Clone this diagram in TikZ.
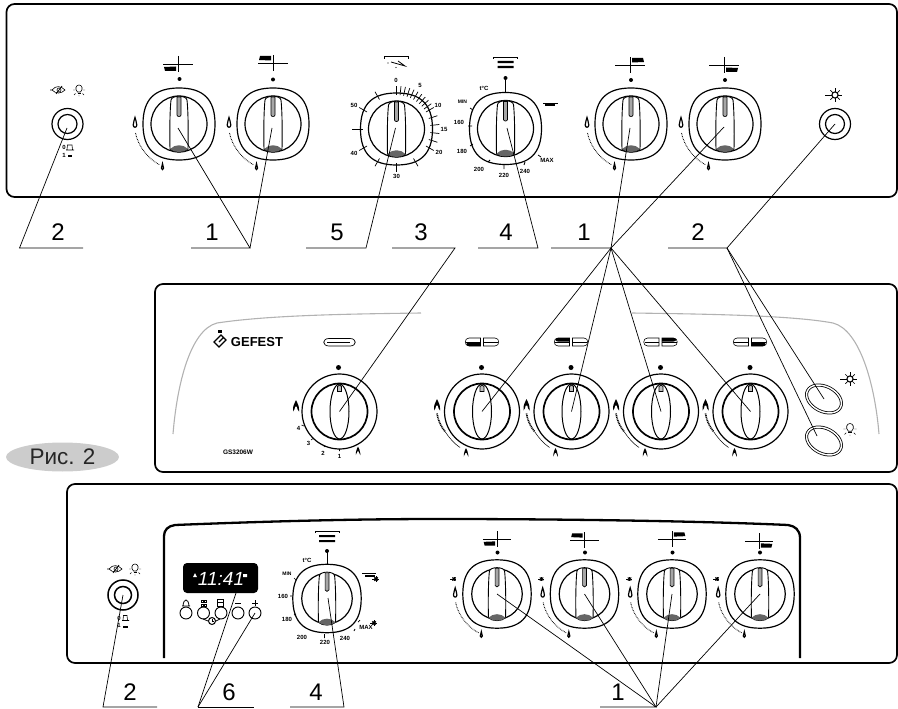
\documentclass[tikz,border=0pt]{standalone}
\usepackage{fontspec}
\setmainfont{Liberation Sans}
\usetikzlibrary{shapes.geometric, calc}

\tikzstyle{panel} = [rounded corners=8pt, line width=1.7pt]
\tikzstyle{line} = [line width=0.7pt]
\tikzstyle{num} = [inner sep=0pt, font=\fontsize{24}{24}\selectfont]
\tikzstyle{small} = [inner sep=0pt, font=\fontsize{6}{6}\selectfont\bfseries]
\tikzstyle{smaller} = [inner sep=0pt, font=\fontsize{5}{5}\selectfont\bfseries]
\tikzstyle{greyline} = [line width=1.1pt, color=black!30]
\tikzstyle{oval} = [ellipse, draw, inner sep=0pt, double, line width=0.8pt, double distance=1.4pt, minimum width=37pt, minimum height=25pt, rotate=-27]

% square knob with a pointer
\newcommand{\knobsq}[2]{
  \begin{scope}[shift={(#1)}, scale=#2]
    \draw [line width=1.2pt] (0,-36) .. controls (24,-36) and (36,-25) .. (36,0)
      .. controls (36,25) and (24,36) .. (0,36) .. controls (-24,36) and (-36,25) .. (-36,0)
      .. controls (-36,-25) and (-24,-36) .. (0,-36) -- cycle;
    \draw [line width=1.2pt] (0,0) circle (28pt*#2);
    \draw [line width=0.9pt, fill=white] (-9,25) .. controls (-9.5,5) and (-9,-15) .. (-8,-24)
      .. controls (-7,-29) and (7,-29) .. (8,-24) .. controls (9,-15) and (9.5,5) .. (9,25)
      .. controls (5,29) and (-5,29) .. (-9,25) -- cycle;
    \fill [black!60] (-9,25) .. controls (-4,20) and (4,20) .. (9,25) .. controls (5,29) and (-5,29) .. (-9,25) -- cycle;
    \draw [line width=0.7pt, fill=black!35] (-2,-27) -- (2,-27) -- (2,-9) .. controls (2,-7) and (-2,-7) .. (-2,-9) -- cycle;
  \end{scope}
}
% round knob with an oval pointer
\newcommand{\knobrd}[1]{
  \begin{scope}[shift={(#1)}]
    \draw [line width=1.2pt] (0,0) circle (37.5pt);
    \draw [line width=1.7pt] (0,0) circle (28pt);
    \draw [line width=1pt] (0,0) circle [x radius=9.5pt, y radius=27.5pt];
    \draw [line width=0.8pt, fill=black!25] (-2,-20) -- (-2,-25) .. controls (-1,-27) and (1,-27) .. (2,-25) -- (2,-20) -- cycle;
  \end{scope}
}
\newcommand{\swsmall}[2]{
  \draw [line width=1.2pt] (#1) circle (15.5pt);
  \draw [line width=1.2pt] (#1) circle (#2);
}
% water drop
\newcommand{\drop}[2]{
  \draw [shift={(#1)}, scale=#2, line width=1.2pt, fill=white] (0,-5.5) .. controls (0.4,-3) and (1.8,-1) .. (1.8,2)
    .. controls (1.8,5) and (-1.8,5) .. (-1.8,2) .. controls (-1.8,-1) and (-0.4,-3) .. (0,-5.5) -- cycle;
}
% flame
\newcommand{\flame}[2]{
  \fill [shift={(#1)}, scale=#2] (0,-6) .. controls (1,-3) and (3,-1) .. (3,3) -- (3,5.5)
    .. controls (2,4) and (1,3) .. (0.8,0.5) -- (-0.8,0.5) .. controls (-1,3) and (-2,4) .. (-3,5.5) -- (-3,3)
    .. controls (-3,-1) and (-1,-3) .. (0,-6) -- cycle;
}
% dotted scale left of a square knob
\newcommand{\scalesq}[2]{
  \begin{scope}[shift={(#1)}, scale=#2]
    \draw [line width=0.9pt, dash pattern=on 0.7pt off 0.9pt] (-43.5,9) .. controls (-41,22) and (-31,35) .. (-19,41);
    \drop{-44,-1}{1}
    \drop{-16.5,43}{0.6}
  \end{scope}
}
% thick and thin scale left of a round knob
\newcommand{\scalerd}[1]{
  \begin{scope}[shift={(#1)}]
    \flame{-45,-6.5}{1}
    \flame{-16,41}{0.75}
    \draw [line width=1.6pt, dash pattern=on 1pt off 0.7pt] (-45,2) .. controls (-44,9) and (-41,15) .. (-37,20);
    \draw [line width=0.5pt] (-37,20) .. controls (-33,26) and (-28,32) .. (-22,36);
  \end{scope}
}
% cross with one black plate
\newcommand{\crossicon}[4]{
  \begin{scope}[shift={(#1)}, scale=#4]
    \draw [line width=0.8pt] (-15,0) -- (15,0) (0,-8) -- (0,8);
    \fill (#2*2,#3*2.5) -- (#2*14,#3*3) -- (#2*13,#3*7) -- (#2*2,#3*7) -- cycle;
  \end{scope}
}
% two halves of a hob
\newcommand{\hobicon}[3]{
  \begin{scope}[shift={(#1)}]
    \draw [line width=0.6pt] (-1.5,-4) -- (-13,-4) .. controls (-18,-4) and (-18,4) .. (-13,4) -- (-1.5,4) -- cycle;
    \draw [line width=0.6pt] (1.5,-4) -- (13,-4) .. controls (18,-4) and (18,4) .. (13,4) -- (1.5,4) -- cycle;
    \draw [line width=0.6pt] (-16,0) -- (-1.5,0) (1.5,0) -- (16,0);
    \fill (#2*1.5,#3*0.5) -- (#2*13,#3*0.5) .. controls (#2*16.5,#3*0.5) and (#2*16.5,#3*4) .. (#2*13,#3*4) -- (#2*1.5,#3*4) -- cycle;
  \end{scope}
}
% oven symbol
\newcommand{\ovenicon}[1]{
  \begin{scope}[shift={(#1)}]
    \draw [line width=0.9pt] (-12,-4) -- (-12,-6) -- (12,-6) -- (12,-4);
    \fill (-8,-2) rectangle (8,0.2) (-8,3) rectangle (8,5.2);
  \end{scope}
}
\newcommand{\bulb}[2]{
  \begin{scope}[shift={(#1)}, scale=#2]
    \draw [line width=0.6pt] (-1.5,2) .. controls (-4.5,-1) and (-3,-5) .. (0,-5) .. controls (3,-5) and (4.5,-1) .. (1.5,2) -- cycle;
    \draw [line width=0.9pt] (-1.5,3.2) -- (1.5,3.2);
    \draw [line width=0.4pt] (-6,0) -- (-4,0) (4,0) -- (6,0) (-3.5,3.5) -- (-5,5) (3.5,3.5) -- (5,5) (0,5) -- (0,6.5);
  \end{scope}
}
\newcommand{\eyeicon}[2]{
  \begin{scope}[shift={(#1)}, scale=#2]
    \draw [line width=0.6pt] (-8,0) -- (-6,0) .. controls (-2,-5) and (3,-4) .. (7,0) .. controls (3,4) and (-2,4) .. (-6,0);
    \draw [line width=0.7pt] (-2,4) -- (4,-4);
    \draw [line width=0.6pt] (1,0) circle (2pt);
  \end{scope}
}
\newcommand{\sunicon}[2]{
  \begin{scope}[shift={(#1)}, scale=#2]
    \foreach \a in {0,45,...,315}
      \draw [line width=0.7pt] (\a:3) -- (\a:6);
    \draw [line width=0.7pt] (180:6) -- (180:9);
    \draw [line width=1.1pt, fill=white] (0,0) circle (2.8pt);
  \end{scope}
}

\begin{document}
\begin{tikzpicture}[x=1pt, y=-1pt]

    \useasboundingbox (0,0) rectangle (898,709);

    % panels
    \coordinate (P1a) at (6.5,4);
    \coordinate (P1b) at (897,197);
    \coordinate (P2a) at (155,284);
    \coordinate (P2b) at (897,472);
    \coordinate (P3a) at (67,484);
    \coordinate (P3b) at (897,663);
    \draw [panel] (P1a) rectangle (P1b);
    \draw [panel] (P2a) rectangle (P2b);
    \draw [panel] (P3a) rectangle (P3b);

    % first panel
    \coordinate (S1) at (67.5,124);
    \coordinate (S2) at (835,124);
    \coordinate (K1) at (179,124);
    \coordinate (K2) at (273,124);
    \coordinate (K3) at (631,124);
    \coordinate (K4) at (725,124);
    \coordinate (TM) at (396.5,129);
    \coordinate (TH) at (505.5,128.5);

    \swsmall{S1}{9.5pt}
    \swsmall{S2}{9.5pt}
    \eyeicon{58,90}{1}
    \bulb{79,90}{1}
    \sunicon{835,95}{1.1}
    \node [small] (off1) at (64,147) {0};
    \node [small] (on1) at (64,155) {1};
    \draw [line width=0.6pt] (67,149.5) -- (67.5,145) -- (72,145) -- (72.5,149.5) (66,150) -- (74,150);
    \fill (68,155) rectangle (72,157);

    \knobsq{K1}{1}
    \knobsq{K2}{1}
    \knobsq{K3}{1}
    \knobsq{K4}{1}
    \scalesq{K1}{1}
    \scalesq{K2}{1}
    \scalesq{K3}{1}
    \scalesq{K4}{1}
    \crossicon{178,64}{-1}{1}{1}
    \crossicon{273,63}{-1}{-1}{1}
    \crossicon{630,65}{1}{-1}{1}
    \crossicon{724,65}{1}{1}{1}
    \fill (179.5,79) circle (2pt) (273,79.5) circle (2pt) (631,80) circle (2pt) (725,80) circle (2pt);

    % timer
    \knobsq{TM}{1}
    \foreach \a in {0,6,...,60,72,84,...,120,150,180,...,330}
      \draw [line width=0.7pt] ({396.5+34*sin(\a)},{129-34*cos(\a)}) -- ({396.5+43*sin(\a)},{129-43*cos(\a)});
    \draw [line width=0.7pt] (361,129) -- (352,129);
    \node [small] (t0) at (396,80) {0};
    \node [small] (t5) at (420,85.5) {5};
    \node [small] (t10) at (438,105) {10};
    \node [small] (t15) at (444,129) {15};
    \node [small] (t20) at (439,152) {20};
    \node [small] (t30) at (396.5,176) {30};
    \node [small] (t40) at (354,153) {40};
    \node [small] (t50) at (354,105) {50};
    \draw [line width=0.9pt] (384,59) -- (384,56) -- (408,56) -- (408,59);
    \draw [line width=0.8pt] (391,62) -- (405,66) -- (398,61);
    \fill (388,63) circle (0.7pt) (396,67.5) circle (0.7pt);

    % thermostat
    \knobsq{TH}{1}
    \ovenicon{505.5,63}
    \fill (505.5,78) circle (2pt);
    \draw [line width=0.8pt] (505.5,78) -- (505.5,92);
    \draw [line width=0.8pt] (470,108) -- (473,110) (468,126) -- (472,126) (470,146) -- (473,144)
      (488,162) -- (490,160) (504,164) -- (504,169) (525,162) -- (524,165) (538,155) -- (541,157);
    \node [small] (tc) at (484,88) {t°C};
    \node [smaller] (tmin) at (462.5,102) {MIN};
    \node [small] (t160) at (459,122) {160};
    \node [small] (t180) at (462,151) {180};
    \node [small] (t200) at (479,169.5) {200};
    \node [small] (t220) at (504,175) {220};
    \node [small] (t240) at (525,171) {240};
    \node [small] (tmax) at (547,160) {MAX};
    \draw [line width=0.9pt] (543,103) -- (558,103);
    \fill (545,104.5) rectangle (555,106.5);

    % second panel
    \draw [greyline] (173,434) .. controls (177,385) and (190,330) .. (217,323) .. controls (270,315) and (350,314) .. (421,313);
    \draw [greyline] (632,313) .. controls (700,314) and (790,315) .. (833,323) .. controls (860,330) and (875,385) .. (879,434);
    \node [inner sep=0pt, font=\fontsize{13}{13}\selectfont\bfseries] (brand) at (257,342) {GEFEST};
    \draw [line width=1.1pt] (214,342) -- (221,335) -- (226,340) -- (219,347) -- cycle (219,342) -- (223,338);
    \fill (218,330) rectangle (222,333);
    \node [inner sep=0pt, font=\fontsize{6.5}{6.5}\selectfont\bfseries] (model) at (238,452) {GS3206W};

    \coordinate (B0) at (339.5,411.5);
    \coordinate (B1) at (482,411.5);
    \coordinate (B2) at (571.5,411.5);
    \coordinate (B3) at (661,411.5);
    \coordinate (B4) at (750.5,411.5);
    \knobrd{B0}
    \knobrd{B1}
    \knobrd{B2}
    \knobrd{B3}
    \knobrd{B4}
    \scalerd{B1}
    \scalerd{B2}
    \scalerd{B3}
    \scalerd{B4}
    \fill (338.5,367.5) circle (2.5pt) (481.5,367.5) circle (2.5pt) (571,367.5) circle (2.5pt) (660.5,367.5) circle (2.5pt) (750,367.5) circle (2.5pt);

    \draw [line width=0.7pt] (329,338.5) -- (350,338.5) .. controls (357,338.5) and (357,346) .. (350,346) -- (329,346) .. controls (322,346) and (322,338.5) .. (329,338.5) -- cycle;
    \draw [line width=0.9pt] (327,342.5) -- (350,342.5);
    \hobicon{482,342}{-1}{1}
    \hobicon{571,342}{-1}{-1}
    \hobicon{660.5,342}{1}{-1}
    \hobicon{750,342}{1}{1}

    \flame{296,406}{1}
    \flame{358,451}{0.75}
    \node [small] (g4) at (298.5,428.5) {4};
    \node [small] (g3) at (308.5,443.5) {3};
    \node [small] (g2) at (323,453) {2};
    \node [small] (g1) at (339.5,456.5) {1};
    \draw [line width=0.6pt] (301.5,425) -- (304,426) (311,440) -- (313,438.5) (324,447) -- (325,445.5) (339.5,449) -- (339.5,451);

    \node [oval] (On) at (824,399) {};
    \node [oval] (Off) at (824,441) {};
    \sunicon{850,379}{1.1}
    \bulb{850,429}{1.1}

    % label on the left
    \node [ellipse, fill=black!20, inner sep=0pt, minimum width=113pt, minimum height=29pt] (Fig) at (62.5,457) {};
    \node [inner sep=0pt, font=\fontsize{22.5}{22.5}\selectfont, color=black!85] (FigT) at (62.5,457) {Рис. 2};

    % third panel
    \draw [line width=2.3pt] (164,658) -- (164,536) .. controls (164,530) and (168,526) .. (175,525)
      .. controls (300,520) and (380,519) .. (440,519) .. controls (560,519) and (700,521) .. (788,525)
      .. controls (795,526) and (800,530) .. (800,538) -- (800,658);
    \coordinate (S3) at (123,595);
    \draw [line width=1.5pt] (S3) circle (15pt);
    \draw [line width=1.5pt] (S3) circle (8.5pt);
    \eyeicon{115,569}{1}
    \bulb{135,569}{1}
    \node [small] (off3) at (119,618) {0};
    \node [small] (on3) at (119,625.5) {1};
    \draw [line width=0.6pt] (123,620) -- (123.5,615.5) -- (127,615.5) -- (127.5,620) (122,620.5) -- (129,620.5);
    \fill (123,626) rectangle (128,628);

    % clock
    \coordinate (Disp) at (220.5,578);
    \node [rectangle, rounded corners=4pt, fill=black, inner sep=0pt, minimum width=75pt, minimum height=30pt] (Screen) at (Disp) {};
    \node [inner sep=0pt, white, font=\fontsize{19}{19}\selectfont\itshape] (Time) at (221,579) {11:41};
    \fill [white] (193,577) -- (195,573) -- (197,577) -- cycle (243,574) rectangle (247,577);

    \coordinate (C1) at (186,613);
    \coordinate (C2) at (203.5,613);
    \coordinate (C3) at (221,613);
    \coordinate (C4) at (238,613);
    \coordinate (C5) at (255,613);
    \coordinate (C6) at (212,621);
    \draw [line width=0.9pt] (C1) circle (6pt) (C2) circle (6pt) (C3) circle (6pt) (C4) circle (6pt) (C5) circle (6pt);
    \draw [line width=0.8pt] (203,619) -- (208,621) (216,621) -- (220,619);
    \draw [line width=1pt] (C6) circle (3.5pt);
    \draw [line width=0.5pt] (212,619) -- (212,621) -- (214,621);
    % button symbols
    \draw [line width=0.8pt] (183,606) .. controls (183.5,598) and (188.5,598) .. (189,606) -- cycle (182,606) -- (190,606);
    \draw [line width=0.8pt] (201,600) rectangle (203,602) (204.5,600) rectangle (206.5,602) (201,604) rectangle (203,606) (204.5,604) rectangle (206.5,606);
    \draw [line width=0.8pt] (217.5,599.5) rectangle (223.5,606) (217.5,602.5) -- (223.5,602.5);
    \draw [line width=1pt] (235,603) -- (241,603);
    \draw [line width=1pt] (252,603) -- (258,603) (255,600) -- (255,606);

    % thermostat of the third panel
    \coordinate (TT) at (327,598.5);
    \knobsq{TT}{0.95}
    \ovenicon{327,537}
    \fill (327,551) circle (2pt);
    \draw [line width=0.8pt] (327,551) -- (327,564);
    \draw [line width=0.7pt] (294,578) -- (296,580) (290,596) -- (293,596) (294,615) -- (296,614) (324.5,634) -- (324.5,638) (355,629) -- (354,631) (360,620) -- (358,622);
    \node [small] (hc) at (307,560) {t°C};
    \node [smaller] (hmin) at (287,574) {MIN};
    \node [small] (h160) at (283,596.5) {160};
    \node [small] (h180) at (287,619) {180};
    \node [small] (h200) at (302,637) {200};
    \node [small] (h220) at (325,642) {220};
    \node [small] (h240) at (345,638.5) {240};
    \node [small] (hmax) at (366,627.5) {MAX};
    \draw [line width=0.9pt] (362,573) -- (376,573);
    \fill (365,575) rectangle (375,577);
    \sunicon{376,579}{0.45}
    \sunicon{374,623}{0.45}

    \coordinate (A1) at (497,594);
    \coordinate (A2) at (584.5,594);
    \coordinate (A3) at (672,594);
    \coordinate (A4) at (760,594);
    \knobsq{A1}{0.95}
    \knobsq{A2}{0.95}
    \knobsq{A3}{0.95}
    \knobsq{A4}{0.95}
    \scalesq{A1}{0.95}
    \scalesq{A2}{0.95}
    \scalesq{A3}{0.95}
    \scalesq{A4}{0.95}
    \crossicon{497,539}{-1}{1}{0.95}
    \crossicon{584.5,540}{-1}{-1}{0.95}
    \crossicon{672,539}{1}{-1}{0.95}
    \crossicon{759,541}{1}{1}{0.95}
    \fill (497.5,552.5) circle (2pt) (585,552.5) circle (2pt) (672.5,552.5) circle (2pt) (760,552.5) circle (2pt);
    \sunicon{454,579}{0.4}
    \sunicon{541.5,579}{0.4}
    \sunicon{629.5,579}{0.4}
    \sunicon{717,579}{0.4}

    % numbers
    \node [num] (N2a) at (58,232) {2};
    \node [num] (N1a) at (212,232) {1};
    \node [num] (N5) at (337,232) {5};
    \node [num] (N3) at (421,232) {3};
    \node [num] (N4a) at (506,232) {4};
    \node [num] (N1b) at (584,232) {1};
    \node [num] (N2b) at (698,232) {2};
    \node [num] (N2c) at (130,692) {2};
    \node [num] (N6) at (229,692) {6};
    \node [num] (N4b) at (316,692) {4};
    \node [num] (N1c) at (618,692) {1};

    % leaders of the first row
    \coordinate (L2a) at (19.5,248);
    \coordinate (R2a) at (83,248);
    \coordinate (L1a) at (191,248);
    \coordinate (R1a) at (250,248);
    \coordinate (L5) at (306,248);
    \coordinate (R5) at (366,248);
    \coordinate (L3) at (392,248);
    \coordinate (R3) at (455,248);
    \coordinate (L4a) at (478,248);
    \coordinate (R4a) at (538,248);
    \coordinate (L1b) at (551,248);
    \coordinate (R1b) at (611,248);
    \coordinate (L2b) at (668,248);
    \coordinate (R2b) at (727,248);
    \draw [line] (R2a) -- (L2a) -- (67,128);
    \draw [line] (L1a) -- (R1a) -- (178,128);
    \draw [line] (R1a) -- (272,128);
    \draw [line] (L5) -- (R5) -- (395.5,128);
    \draw [line] (L3) -- (R3) -- (B0);
    \draw [line] (L4a) -- (R4a) -- (507,128);
    \draw [line] (L1b) -- (R1b) -- (630,128);
    \draw [line] (R1b) -- (724,127);
    \draw [line] (R1b) -- (B1);
    \draw [line] (R1b) -- (B2);
    \draw [line] (R1b) -- (B3);
    \draw [line] (R1b) -- (B4);
    \draw [line] (L2b) -- (R2b) -- (S2);
    \draw [line] (R2b) -- (On.center);
    \draw [line] (R2b) -- (817,436);

    % leaders of the last row
    \coordinate (L2c) at (103,707);
    \coordinate (R2c) at (157,707);
    \coordinate (L6) at (198,707);
    \coordinate (R6) at (254,707);
    \coordinate (L4b) at (290,707);
    \coordinate (R4b) at (344,707);
    \coordinate (L1c) at (600,707);
    \coordinate (R1c) at (656,707);
    \draw [line] (R2c) -- (L2c) -- (S3);
    \draw [line] (L6) -- (R6);
    \draw [line] (L6) -- (236,593);
    \draw [line] (L6) -- (C5);
    \draw [line] (L4b) -- (R4b) -- (328,598);
    \draw [line] (L1c) -- (R1c) -- (A1);
    \draw [line] (R1c) -- (A2);
    \draw [line] (R1c) -- (A3);
    \draw [line] (R1c) -- (A4);

\end{tikzpicture}
\end{document}
